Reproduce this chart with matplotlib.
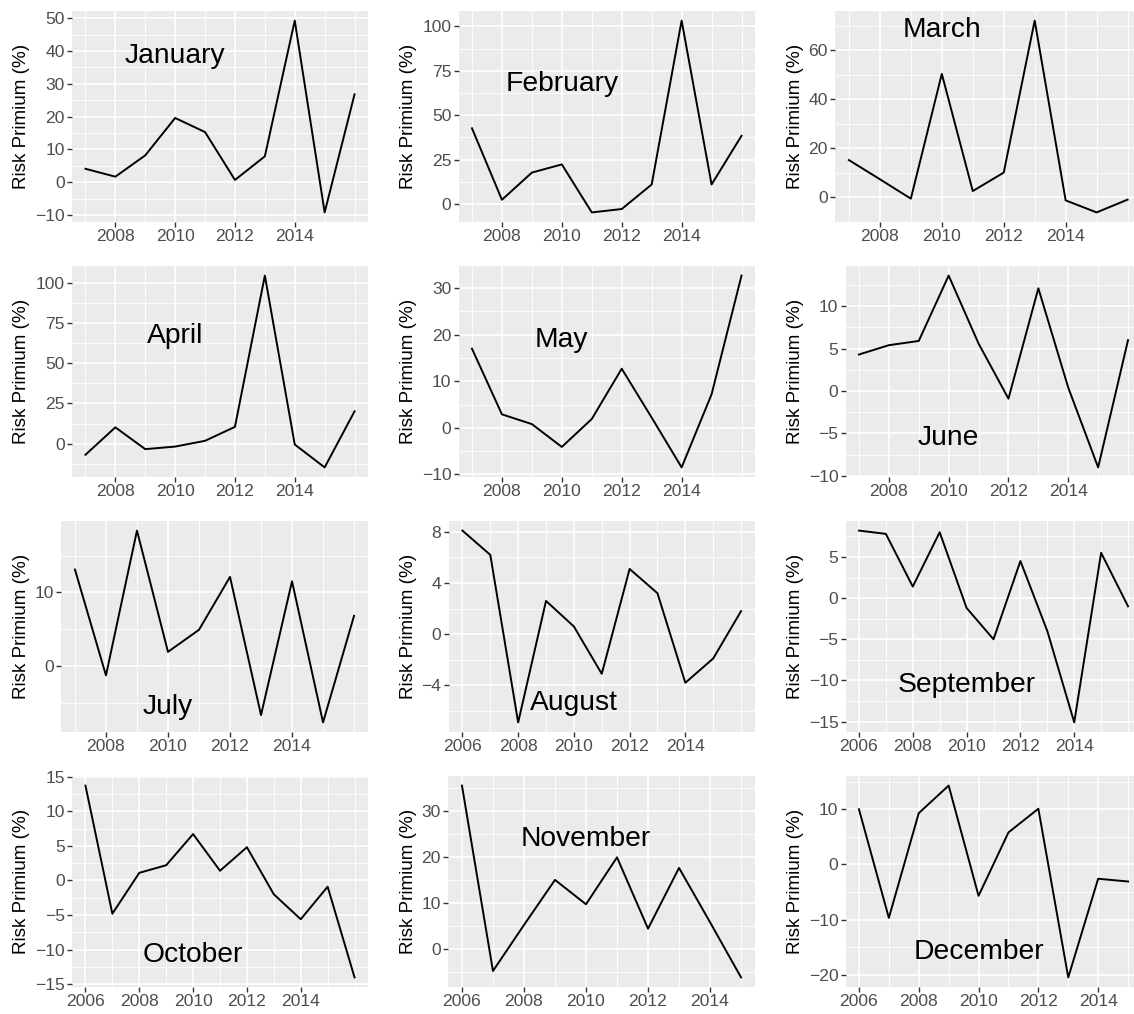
import matplotlib
matplotlib.use("Agg")
import matplotlib.pyplot as plt
import numpy as np

plt.rcParams['font.family'] = ['Liberation Sans', 'DejaVu Sans']
plt.rcParams['axes.unicode_minus'] = True

# ---------------- data ----------------
months = ["January", "February", "March", "April", "May", "June",
          "July", "August", "September", "October", "November", "December"]

years_a = list(range(2007, 2017))   # Jan - Jul
years_b = list(range(2006, 2017))   # Aug - Oct
years_c = list(range(2006, 2016))   # Nov - Dec

jan = [4.1, 1.7, 8.2, 19.6, 15.3, 0.7, 7.9, 49.3, -9.2, 26.8]
feb = [42.6, 2.4, 17.7, 22.3, -4.7, -2.8, 11.0, 103.2, 11.0, 38.4]
mar = [15.2, 7.4, -0.5, 50.3, 2.6, 10.1, 72.0, -1.2, -6.1, -0.9]
apr = [-7.0, 10.1, -3.5, -1.9, 1.7, 10.4, 104.8, -0.6, -14.9, 20.1]
may = [17.0, 2.9, 0.8, -4.1, 1.9, 12.7, 2.2, -8.5, 7.2, 32.7]
jun = [4.3, 5.4, 5.9, 13.6, 5.6, -0.9, 12.1, 0.4, -9.0, 6.0]
jul = [13.1, -1.3, 18.4, 1.9, 4.9, 12.1, -6.7, 11.5, -7.7, 6.8]
aug = [8.1, 6.2, -6.9, 2.6, 0.6, -3.1, 5.1, 3.2, -3.8, -1.9, 1.8]
sep = [8.2, 7.8, 1.4, 8.0, -1.2, -5.0, 4.5, -4.0, -15.1, 5.5, -1.0]
octo = [13.7, -4.8, 1.1, 2.2, 6.7, 1.4, 4.8, -2.0, -5.6, -0.9, -14.0]
nov = [35.5, -4.8, 5.2, 15.0, 9.7, 19.9, 4.4, 17.6, 5.8, -6.2]
dec = [10.0, -9.7, 9.3, 14.3, -5.7, 5.8, 10.1, -20.5, -2.6, -3.1]

series = [jan, feb, mar, apr, may, jun, jul, aug, sep, octo, nov, dec]
years = [years_a] * 7 + [years_b] * 3 + [years_c] * 2

# position of month annotation (data coords)
label_x = [2010] * 12
label_y = [40, 70, 70, 70, 20, -5, -5, -5, -10, -10, 25, -15]

# y major break step per panel
y_step = [10, 25, 20, 25, 10, 5, 10, 4, 5, 5, 10, 10]
# labelled x breaks
x_major_a = [2008, 2010, 2012, 2014]
x_major_b = [2006, 2008, 2010, 2012, 2014]
x_major = [x_major_a] * 7 + [x_major_b] * 5

ylab = "Risk Primium (%)"

# ---------------- layout (pixels) ----------------
W, H = 1134, 1014
fig = plt.figure(figsize=(W / 100, H / 100), dpi=100)

col_starts = [0, 386.5, 773]
col_rights = [368, 755, 1141.5]
row_tops = [11, 266, 521, 776]
panel_h = 211
left_off = [72, 72, 62, 72, 72, 72.5, 61, 62, 72.5, 72, 61.5, 72.5]

BG = "#EBEBEB"
TICKLAB = "#4D4D4D"


def fmt(v):
    s = ("%g" % v)
    return s.replace("-", "\u2212")


for i in range(12):
    r, c = divmod(i, 3)
    left = col_starts[c] + left_off[i]
    right = col_rights[c]
    top = row_tops[r]
    ax = fig.add_axes([left / W, 1 - (top + panel_h) / H,
                       (right - left) / W, panel_h / H])
    ax.set_facecolor(BG)
    for s in ax.spines.values():
        s.set_visible(False)

    x = np.array(years[i], dtype=float)
    y = np.array(series[i], dtype=float)
    ax.plot(x, y, color="black", lw=1.4, solid_joinstyle="round", zorder=3)

    xr = x.max() - x.min()
    yr = y.max() - y.min()
    xlo, xhi = x.min() - 0.05 * xr, x.max() + 0.05 * xr
    ylo, yhi = y.min() - 0.05 * yr, y.max() + 0.05 * yr
    ax.set_xlim(xlo, xhi)
    ax.set_ylim(ylo, yhi)

    # y breaks
    st = y_step[i]
    k0 = int(np.ceil(ylo / st))
    k1 = int(np.floor(yhi / st))
    ymaj = [k * st for k in range(k0, k1 + 1)]
    h = st / 2.0
    m0 = int(np.ceil(ylo / h))
    m1 = int(np.floor(yhi / h))
    ymin = [k * h for k in range(m0, m1 + 1) if k % 2 != 0]
    ax.set_yticks(ymaj)
    ax.set_yticklabels([fmt(v) for v in ymaj])
    ax.set_yticks(ymin, minor=True)

    # x breaks
    xm = x_major[i]
    xmin = [v for v in range(int(np.ceil(xlo)), int(np.floor(xhi)) + 1)
            if v not in xm]
    ax.set_xticks(xm)
    ax.set_xticklabels([str(v) for v in xm])
    ax.set_xticks(xmin, minor=True)

    ax.grid(which="major", color="white", lw=1.2, zorder=0)
    ax.grid(which="minor", color="white", lw=0.6, zorder=0)
    ax.set_axisbelow(True)
    ax.tick_params(which="major", length=3.6, width=1.0, color="#333333",
                   labelsize=12.6, labelcolor=TICKLAB, pad=1.5)
    ax.tick_params(which="minor", length=0)

    ax.annotate(months[i], xy=(label_x[i], label_y[i]), xytext=(0, -3.5),
                textcoords="offset points", ha="center", va="center",
                fontsize=20.3, color="black", zorder=4)

    fig.text((col_starts[c] + 22) / W, 1 - (top + panel_h / 2) / H, ylab,
             rotation=90, ha="center", va="center", fontsize=13.6,
             color="black")

fig.savefig("out.png", dpi=100, facecolor="white")
